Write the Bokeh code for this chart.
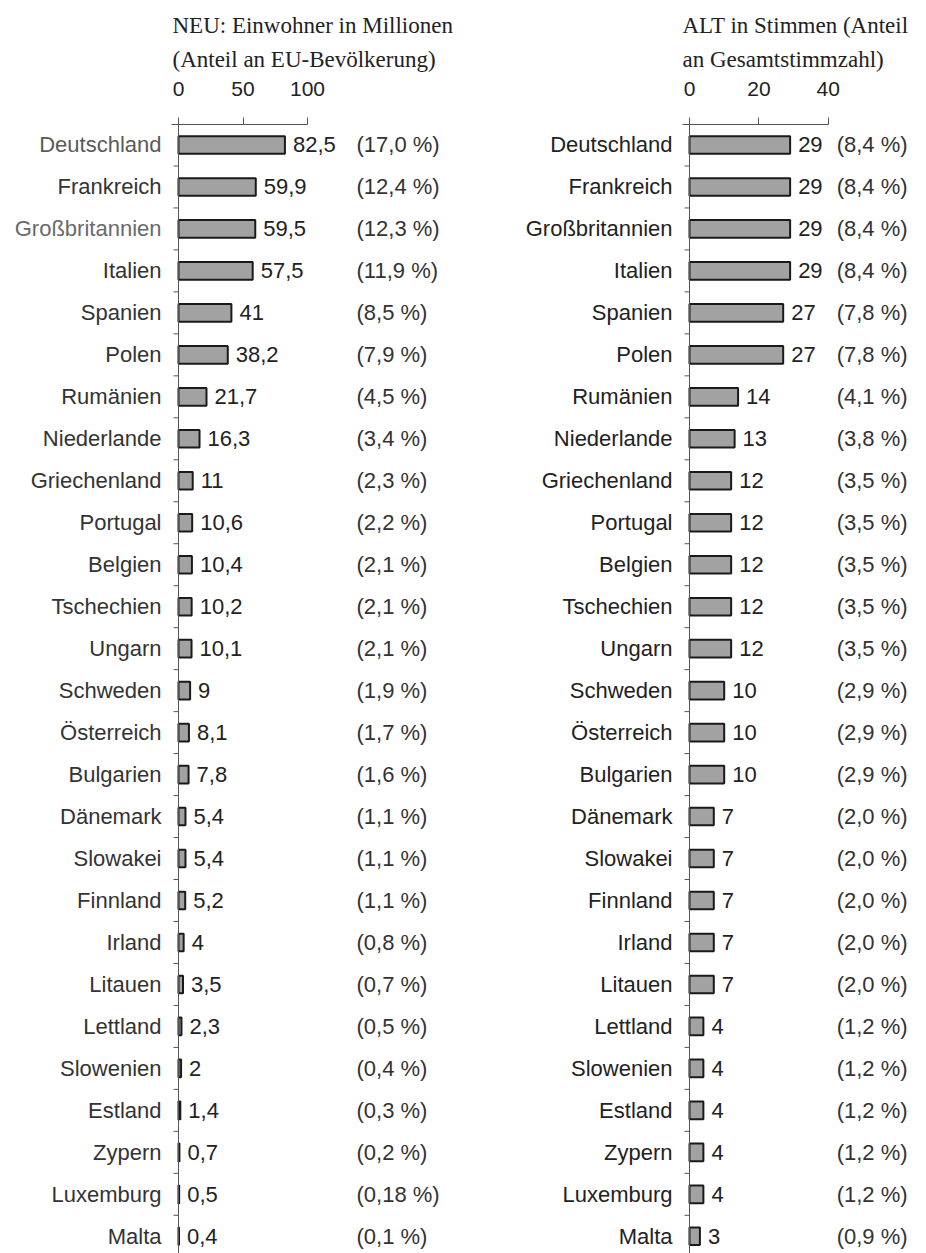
from bokeh.plotting import figure
from bokeh.layouts import row
from bokeh.models import Range1d, FixedTicker, Span, Title
from bokeh.embed import file_html
from bokeh.resources import INLINE
from bokeh.core.properties import value

# ---------------- data ----------------
countries = ["Deutschland", "Frankreich", "Großbritannien", "Italien", "Spanien", "Polen",
             "Rumänien", "Niederlande", "Griechenland", "Portugal", "Belgien", "Tschechien",
             "Ungarn", "Schweden", "Österreich", "Bulgarien", "Dänemark", "Slowakei",
             "Finnland", "Irland", "Litauen", "Lettland", "Slowenien", "Estland", "Zypern",
             "Luxemburg", "Malta"]
population = [82.5, 59.9, 59.5, 57.5, 41, 38.2, 21.7, 16.3, 11, 10.6, 10.4, 10.2, 10.1,
              9, 8.1, 7.8, 5.4, 5.4, 5.2, 4, 3.5, 2.3, 2, 1.4, 0.7, 0.5, 0.4]
population_share = ["17,0", "12,4", "12,3", "11,9", "8,5", "7,9", "4,5", "3,4", "2,3",
                    "2,2", "2,1", "2,1", "2,1", "1,9", "1,7", "1,6", "1,1", "1,1", "1,1",
                    "0,8", "0,7", "0,5", "0,4", "0,3", "0,2", "0,18", "0,1"]
votes = [29, 29, 29, 29, 27, 27, 14, 13, 12, 12, 12, 12, 12, 10, 10, 10, 7, 7, 7, 7, 7,
         4, 4, 4, 4, 4, 3]
vote_share = ["8,4", "8,4", "8,4", "8,4", "7,8", "7,8", "4,1", "3,8", "3,5", "3,5", "3,5",
              "3,5", "3,5", "2,9", "2,9", "2,9", "2,0", "2,0", "2,0", "2,0", "2,0", "1,2",
              "1,2", "1,2", "1,2", "1,2", "0,9"]
pop_ticks = [0, 50, 100]
vote_ticks = [0, 20, 40]
pop_title = ["NEU: Einwohner in Millionen", "(Anteil an EU-Bevölkerung)"]
vote_title = ["ALT in Stimmen (Anteil", "an Gesamtstimmzahl)"]

# ---------------- layout / style ----------------
SANS = value("Liberation Sans")
SERIF = "Liberation Serif"
FONT_PX = "22px"
H = 1253
TOP_PANEL = 124
FRAME_TOP_ROW = -0.488
FRAME_BOTTOM_ROW = 26.41


def fmt(v):
    return ("%g" % v).replace(".", ",")


def panel(values, shares, ticks, title, width, zero_px, ppu, axis_start, share_x,
          label_colors, title_offset):
    idx = list(range(len(values)))
    x0 = -zero_px / ppu
    x1 = (width - zero_px) / ppu
    p = figure(width=width, height=H, output_backend="svg", toolbar_location=None,
               x_axis_location="above", y_axis_location=None,
               x_range=Range1d(x0, x1),
               y_range=Range1d(FRAME_BOTTOM_ROW, FRAME_TOP_ROW),
               min_border_left=0, min_border_right=0, min_border_bottom=0,
               min_border_top=TOP_PANEL)
    p.outline_line_color = None
    p.grid.visible = False
    p.background_fill_color = "white"

    ax = p.xaxis[0]
    ax.ticker = FixedTicker(ticks=ticks)
    ax.bounds = (axis_start, ticks[-1])
    ax.major_tick_out = 7
    ax.major_tick_in = 0
    ax.minor_tick_out = 0
    ax.minor_tick_in = 0
    ax.axis_line_color = "#555555"
    ax.major_tick_line_color = "#555555"
    ax.major_label_text_font = "Liberation Sans"
    ax.major_label_text_font_size = "21px"
    ax.major_label_text_color = "#222222"
    ax.major_label_standoff = 22

    p.add_layout(Title(text=title[1], align="left", offset=title_offset,
                       text_font=SERIF, text_font_size="23px",
                       text_font_style="normal", text_color="#222222",
                       standoff=14), "above")
    p.add_layout(Title(text=title[0], align="left", offset=title_offset,
                       text_font=SERIF, text_font_size="23px",
                       text_font_style="normal", text_color="#222222",
                       standoff=0), "above")

    # vertical axis line at zero
    p.add_layout(Span(location=0, dimension="height", line_color="#555555",
                      line_width=1))
    # separator ticks between categories
    sep = [i + 0.5 for i in idx[:-1]]
    p.segment(x0=[-5 / ppu] * len(sep), x1=[0] * len(sep), y0=sep, y1=sep,
              line_color="#555555", line_width=1)

    p.hbar(y=idx, left=0, right=values, height=0.42, fill_color="#a2a2a2",
           line_color="#1a1a1a", line_width=2)

    p.text(x=[0] * len(idx), y=idx, text=countries, x_offset=-17,
           text_align="right", text_baseline="middle", text_font=SANS,
           text_font_size=FONT_PX, text_color=label_colors)
    p.text(x=values, y=idx, text=[fmt(v) for v in values], x_offset=8,
           text_align="left", text_baseline="middle", text_font=SANS,
           text_font_size=FONT_PX, text_color="#222222")
    p.text(x=[share_x] * len(idx), y=idx, text=["(%s %%)" % s for s in shares],
           text_align="left", text_baseline="middle", text_font=SANS,
           text_font_size=FONT_PX, text_color="#333333")
    return p


left_colors = ["#333333"] * len(countries)
left_colors[0] = "#5a5a5a"
left_colors[2] = "#6a6a6a"
right_colors = ["#222222"] * len(countries)

left = panel(population, population_share, pop_ticks, pop_title, width=468,
             zero_px=178, ppu=1.29, axis_start=-5.4, share_x=138,
             label_colors=left_colors, title_offset=172)
right = panel(votes, vote_share, vote_ticks, vote_title, width=458,
              zero_px=221, ppu=3.47, axis_start=-2.0, share_x=42.4,
              label_colors=right_colors, title_offset=214)

layout = row(left, right, spacing=0)
open("out.html", "w").write(file_html(layout, INLINE))
